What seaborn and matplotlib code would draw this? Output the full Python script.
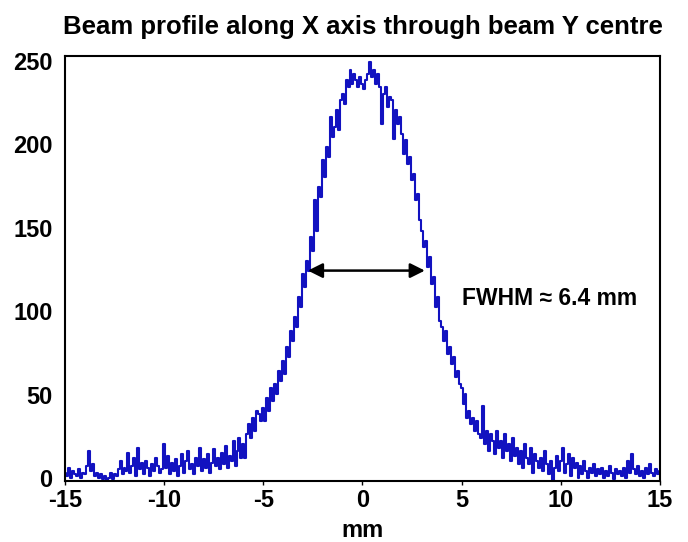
import numpy as np
import pandas as pd
import matplotlib
matplotlib.use("Agg")
import matplotlib.pyplot as plt
import matplotlib.transforms as mtransforms
import seaborn as sns

# positions along X (mm), 0.1 mm pitch
x_mm = np.round(np.arange(-15.0, 15.05, 0.1), 1)

# intensity, one row per mm
intensity = [
    5, 3, 8, 2, 6, 4, 3, 7, 2, 5,            # -15
    4, 9, 18, 6, 10, 3, 5, 2, 4, 1,          # -14
    3, 0, 2, 5, 1, 4, 3, 7, 12, 4,           # -13
    8, 6, 17, 5, 9, 14, 3, 20, 7, 11,        # -12
    4, 12, 8, 3, 10, 6, 14, 9, 5, 7,         # -11
    22, 8, 15, 4, 11, 6, 13, 3, 9, 16,       # -10
    5, 12, 18, 7, 10, 4, 14, 9, 20, 6,       # -9
    13, 8, 16, 5, 11, 19, 9, 14, 7, 17,      # -8
    10, 21, 8, 15, 12, 24, 9, 18, 26, 14,    # -7
    22, 14, 28, 34, 26, 38, 30, 42, 40, 36,  # -6
    44, 36, 50, 42, 56, 48, 58, 52, 66, 60,  # -5
    72, 64, 80, 74, 90, 84, 98, 92, 110, 104,     # -4
    124, 116, 132, 126, 146, 138, 168, 150, 176, 170,  # -3
    192, 182, 200, 194, 218, 206, 212, 222, 210, 228,  # -2
    232, 226, 240, 236, 246, 238, 244, 240, 236, 242,  # -1
    238, 235, 240, 244, 251, 242, 246, 238, 244, 236,  # 0
    214, 232, 236, 224, 230, 228, 205, 222, 214, 218,  # 1
    208, 196, 204, 190, 194, 180, 184, 168, 172, 156,  # 2
    150, 140, 144, 128, 134, 118, 122, 104, 110, 96,   # 3
    92, 84, 90, 76, 80, 70, 74, 62, 66, 58,  # 4
    56, 46, 52, 38, 42, 34, 38, 30, 36, 28,  # 5
    26, 45, 22, 30, 18, 28, 24, 16, 30, 20,  # 6
    24, 14, 28, 18, 22, 12, 26, 15, 20, 10,  # 7
    18, 8, 22, 14, 10, 20, 5, 16, 12, 8,     # 8
    14, 6, 18, 10, 4, 12, 0, 8, 15, 6,       # 9
    12, 20, 5, 10, 16, 3, 14, 8, 11, 2,      # 10
    9, 4, 12, 6, 2, 8, 5, 10, 3, 7,          # 11
    4, 8, 2, 6, 3, 9, 5, 1, 7, 4,            # 12
    6, 3, 8, 2, 12, 5, 16, 7, 4, 9,          # 13
    3, 6, 2, 8, 4, 10, 5, 3, 7, 4,           # 14
    6,                                       # 15
]

x_ticks = [-15, -10, -5, 0, 5, 10, 15]
y_ticks = [0, 50, 100, 150, 200, 250]
fwhm_left, fwhm_right, fwhm_level = -2.75, 3.15, 126
fwhm_label = "FWHM \u2248 6.4 mm"

df = pd.DataFrame({"x": x_mm, "counts": intensity})

sns.set_style("white")
plt.rcParams["font.family"] = ["Liberation Sans", "DejaVu Sans"]
plt.rcParams["font.weight"] = "bold"
plt.rcParams["axes.unicode_minus"] = False
for key in ["text.color", "axes.labelcolor", "xtick.color", "ytick.color"]:
    plt.rcParams[key] = "black"

fig = plt.figure(figsize=(6.88, 5.42), dpi=100)
ax = fig.add_axes([0.0945, 0.1125, 0.8645, 0.7842])

sns.lineplot(data=df, x="x", y="counts", ax=ax, color="#1212c0",
             linewidth=1.5, drawstyle="steps-mid")

ax.annotate("", xy=(fwhm_left, fwhm_level), xytext=(fwhm_right, fwhm_level),
            arrowprops=dict(arrowstyle="<|-|>", color="black", lw=1.8,
                            mutation_scale=22, shrinkA=0, shrinkB=0))
ax.text(5.0, 109, fwhm_label, fontsize=16.5, fontweight="bold", va="center")

ax.set_xlim(-15, 15)
ax.set_ylim(0, 254.5)
ax.set_xticks(x_ticks)
ax.set_yticks(y_ticks)
ax.tick_params(axis="x", labelsize=17, length=3, width=1, direction="out",
               bottom=True, pad=3)
ax.tick_params(axis="y", labelsize=17, length=0, left=False, pad=9)
# nudge y labels up a little, as in the original
shift = mtransforms.ScaledTranslation(0, 3 / 100, fig.dpi_scale_trans)
for lbl in ax.get_yticklabels():
    lbl.set_transform(lbl.get_transform() + shift)
for lbl in ax.get_xticklabels() + ax.get_yticklabels():
    lbl.set_fontweight("bold")
for sp in ax.spines.values():
    sp.set_color("black")
    sp.set_linewidth(1.5)

ax.set_xlabel("mm", fontsize=17, fontweight="bold", labelpad=5)
ax.set_ylabel("")
fig.text(0.527, 0.951, "Beam profile along X axis through beam Y centre",
         ha="center", va="center", fontsize=18.5, fontweight="bold")

fig.savefig("out.png", dpi=100)
